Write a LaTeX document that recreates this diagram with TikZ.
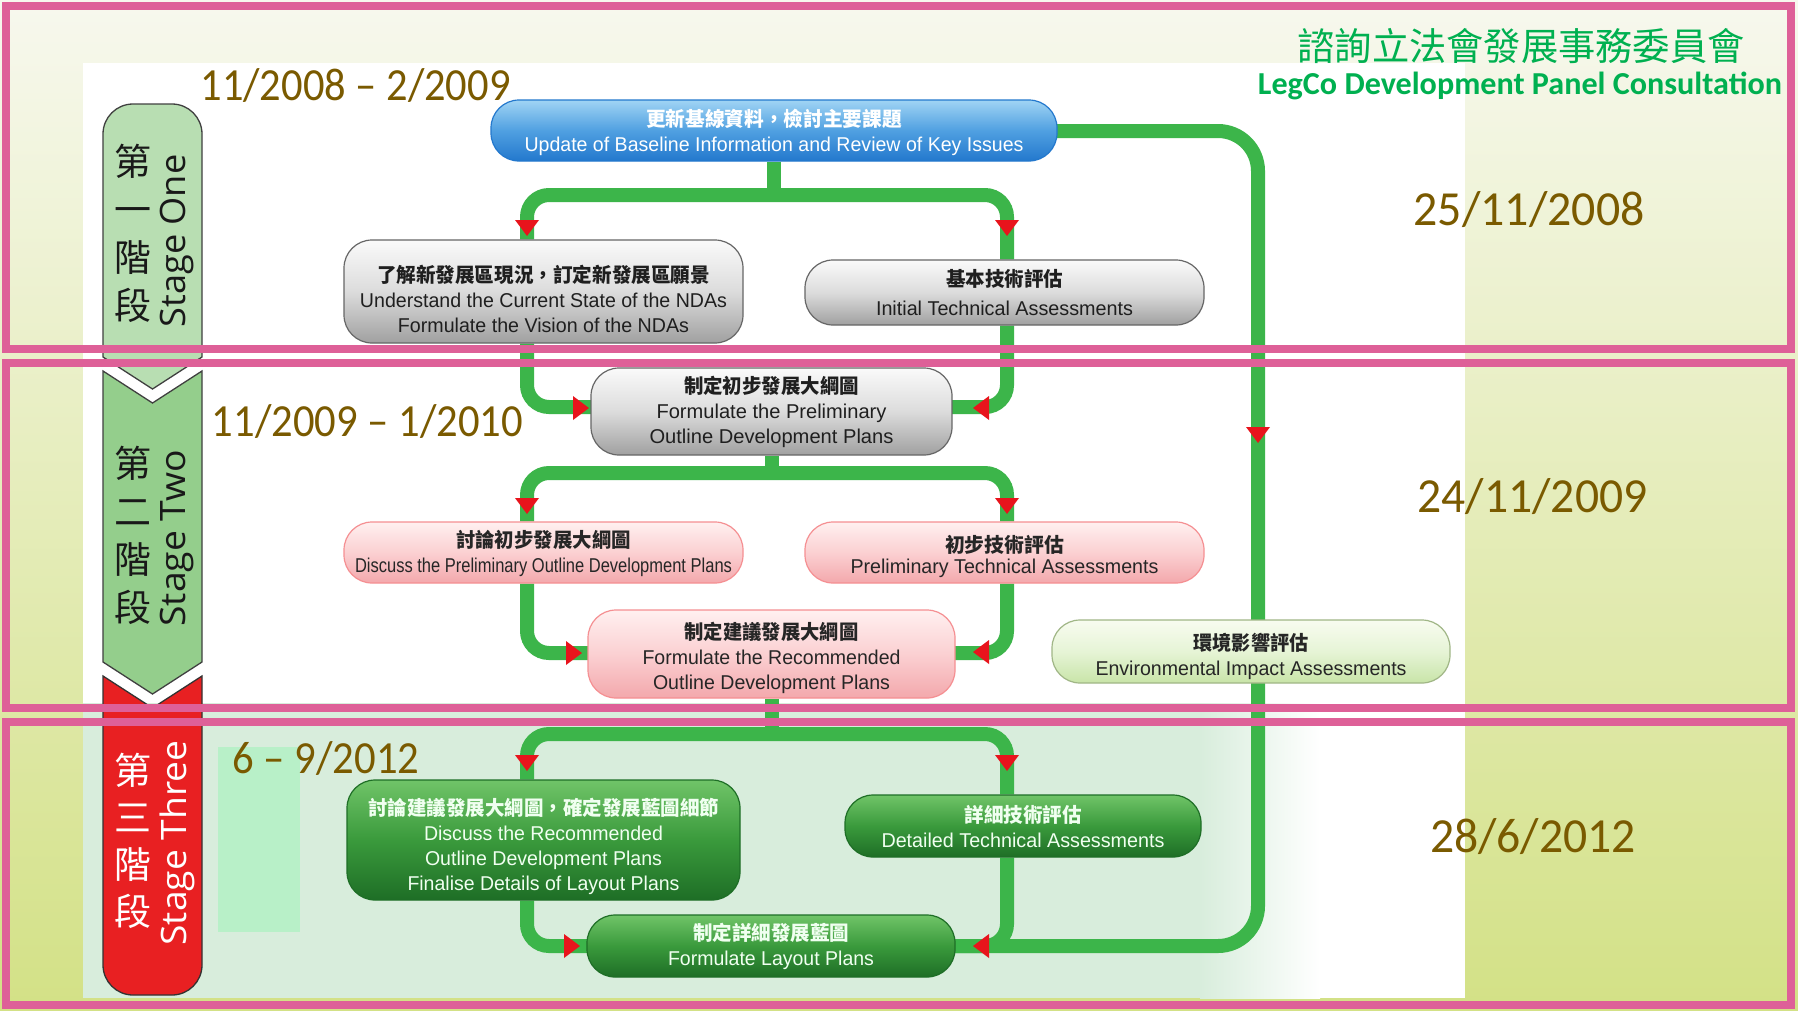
\documentclass[tikz,border=0pt]{standalone}
\usepackage{fontspec}
\usepackage{graphicx}
\setmainfont{Liberation Sans}
\newfontfamily\cjk{Noto Sans CJK TC}
\newfontfamily\calib{Carlito}
\newfontfamily\osans{Open Sans}
\pgfdeclarelayer{back}
\pgfdeclarelayer{lines}
\pgfsetlayers{back,lines,main}
\newcommand{\fw}[2]{\resizebox{#1pt}{\height}{#2}}
\newcommand{\up}[1]{\rule{0pt}{#1pt}}
\definecolor{pinkF}{RGB}{222,96,152}
\definecolor{lineGreen}{RGB}{60,181,74}
\definecolor{arrRed}{RGB}{232,20,28}
\definecolor{dateBrown}{RGB}{122,90,0}
\definecolor{titleGreen}{RGB}{0,176,80}
\definecolor{bgTop}{RGB}{247,248,238}
\definecolor{bgBot}{RGB}{211,225,134}
\definecolor{tint}{RGB}{216,237,220}
\definecolor{mint}{RGB}{184,240,200}
\definecolor{blueT}{RGB}{160,212,244}
\definecolor{blueM}{RGB}{80,160,225}
\definecolor{blueB}{RGB}{35,120,205}
\definecolor{grayT}{RGB}{250,250,250}
\definecolor{grayM}{RGB}{220,220,220}
\definecolor{grayB}{RGB}{160,160,160}
\definecolor{pinkT}{RGB}{255,240,240}
\definecolor{pinkM}{RGB}{251,208,210}
\definecolor{pinkB}{RGB}{243,168,172}
\definecolor{eiaT}{RGB}{248,252,240}
\definecolor{eiaM}{RGB}{230,244,214}
\definecolor{eiaB}{RGB}{200,228,168}
\definecolor{dgT}{RGB}{112,196,104}
\definecolor{dgM}{RGB}{58,154,60}
\definecolor{dgB}{RGB}{30,110,38}
\definecolor{stOne}{RGB}{184,222,178}
\definecolor{stTwo}{RGB}{148,206,140}
\definecolor{stThree}{RGB}{232,32,34}
\tikzset{
  box/.style={rectangle, rounded corners=28pt, inner sep=0pt, align=center,
    font=\fontsize{20}{25}\selectfont, line width=1.2pt},
  bluebox/.style={box, draw=blueB, top color=blueT, bottom color=blueB, middle color=blueM, text=white},
  graybox/.style={box, draw=gray!80!black, top color=grayT, bottom color=grayB, middle color=grayM, text=black!88},
  pinkbox/.style={box, draw=pinkB!85!red, top color=pinkT, bottom color=pinkB, middle color=pinkM, text=black!85},
  eiabox/.style={box, draw=eiaB!80!black, top color=eiaT, bottom color=eiaB, middle color=eiaM, text=black!85},
  dgbox/.style={box, draw=dgB, top color=dgT, bottom color=dgB, middle color=dgM, text=white!94!green},
  link/.style={draw=lineGreen, line width=14pt, rounded corners=22pt},
  datetext/.style={text=dateBrown, inner sep=0pt, font=\calib\fontsize{46}{46}\selectfont},
  stagebar/.style={line width=1.3pt},
  adown/.pic={\fill[arrRed] (0,0) -- (-12,-16) -- (12,-16) -- cycle;},
  aright/.pic={\fill[arrRed] (0,0) -- (-16,-12) -- (-16,12) -- cycle;},
  aleft/.pic={\fill[arrRed] (0,0) -- (16,-12) -- (16,12) -- cycle;},
}
\begin{document}
\begin{tikzpicture}[x=1pt,y=-1pt]
\useasboundingbox (0,0) rectangle (1798,1010);
\begin{pgfonlayer}{back}
  \shade[top color=bgTop, bottom color=bgBot] (0,0) rectangle (1798,1010);
  \fill[white] (83,63) rectangle (1465,998);
  \fill[tint] (83,703) rectangle (1200,998);
  \shade[left color=tint, right color=white] (1200,703) rectangle (1320,998);
  \fill[mint] (218,747) rectangle (300,932);
\end{pgfonlayer}

% coordinates for connector routing
\coordinate (xL) at (527,0);
\coordinate (xR) at (1007,0);
\coordinate (xLoop) at (1258,0);
\coordinate (yTop) at (0,131);
\coordinate (yA) at (0,195);
\coordinate (yB) at (0,407);
\coordinate (yC) at (0,473);
\coordinate (yD) at (0,653);
\coordinate (yE) at (0,734);
\coordinate (yF) at (0,946);

% nodes
\node[bluebox, minimum width=566pt, minimum height=61pt] (n1) at (774,130.5)
  {\up{22}\fw{256}{\cjk\bfseries 更新基線資料，檢討主要課題}\\\fw{499}{Update of Baseline Information and Review of Key Issues}};
\node[graybox, minimum width=399pt, minimum height=103pt] (n2) at (543.5,291.5)
  {\up{32}\fw{333}{\cjk\bfseries 了解新發展區現況，訂定新發展區願景}\\\fw{367}{Understand the Current State of the NDAs}\\\fw{291}{Formulate the Vision of the NDAs}};
\node[graybox, minimum width=399pt, minimum height=65pt] (n3) at (1004.5,292.5)
  {\fw{117}{\cjk\bfseries 基本技術評估}\\[4pt]\fw{257}{Initial Technical Assessments}};
\node[graybox, minimum width=361pt, minimum height=87pt] (n4) at (771.5,411.5)
  {\fw{175}{\cjk\bfseries 制定初步發展大綱圖}\\\fw{230}{Formulate the Preliminary}\\\fw{244}{Outline Development Plans}};
\node[pinkbox, minimum width=399pt, minimum height=61pt] (n5) at (543.5,552.5)
  {\up{20}\fw{175}{\cjk\bfseries 討論初步發展大綱圖}\\\fw{377}{Discuss the Preliminary Outline Development Plans}};
\node[pinkbox, minimum width=399pt, minimum height=61pt] (n6) at (1004.5,552.5)
  {\up{26}\fw{119}{\cjk\bfseries 初步技術評估}\\[-4pt]\fw{308}{Preliminary Technical Assessments}};
\node[pinkbox, minimum width=367pt, minimum height=88pt] (n7) at (771.5,654)
  {\up{25}\fw{174}{\cjk\bfseries 制定建議發展大綱圖}\\\fw{258}{Formulate the Recommended}\\\fw{237}{Outline Development Plans}};
\node[dgbox, minimum width=393pt, minimum height=120pt] (n9) at (543.5,840)
  {\up{31}\fw{351}{\cjk\bfseries 討論建議發展大綱圖，確定發展藍圖細節}\\\fw{239}{Discuss the Recommended}\\\fw{237}{Outline Development Plans}\\\fw{272}{Finalise Details of Layout Plans}};
\node[dgbox, minimum width=356pt, minimum height=62pt] (n10) at (1023,826)
  {\fw{117}{\cjk\bfseries 詳細技術評估}\\\fw{283}{Detailed Technical Assessments}};
\node[dgbox, minimum width=368pt, minimum height=62pt] (n11) at (771,946)
  {\fw{156}{\cjk\bfseries 制定詳細發展藍圖}\\\fw{206}{Formulate Layout Plans}};
\node[eiabox, minimum width=398pt, minimum height=63pt] (n8) at (1251,651.5)
  {\up{27}\fw{115}{\cjk\bfseries 環境影響評估}\\\fw{311}{Environmental Impact Assessments}};

% connectors
\begin{pgfonlayer}{lines}
  \draw[link, rounded corners=40pt] (n1.center |- yTop) -- (xLoop |- yTop) -- (xLoop |- yF) -- (n11.center |- yF);
  \draw[link] (n1.south) -- (n1.south |- yA);
  \draw[link] (n2.north -| xL) -- (xL |- yA) -- (xR |- yA) -- (n3.north -| xR);
  \draw[link] (n2.south -| xL) -- (xL |- yB) -- (n4.center |- yB);
  \draw[link] (n3.south -| xR) -- (xR |- yB) -- (n4.center |- yB);
  \draw[link] (n4.south) -- (n4.south |- yC);
  \draw[link] (n5.north -| xL) -- (xL |- yC) -- (xR |- yC) -- (n6.north -| xR);
  \draw[link] (n5.south -| xL) -- (xL |- yD) -- (n7.center |- yD);
  \draw[link] (n6.south -| xR) -- (xR |- yD) -- (n7.center |- yD);
  \draw[link] (n7.south) -- (n7.south |- yE);
  \draw[link] (n9.north -| xL) -- (xL |- yE) -- (xR |- yE) -- (n10.north -| xR);
  \draw[link] (n9.south -| xL) -- (xL |- yF) -- (n11.center |- yF);
  \draw[link] (n10.south -| xR) -- (xR |- yF) -- (n11.center |- yF);
\end{pgfonlayer}

% arrowheads
\pic at (527,236) {adown};
\pic at (1007,236) {adown};
\pic at (589,408) {aright};
\pic at (973,408) {aleft};
\pic at (527,514) {adown};
\pic at (1007,514) {adown};
\pic at (582,653) {aright};
\pic at (973,652) {aleft};
\pic at (527,771) {adown};
\pic at (1007,771) {adown};
\pic at (580,946) {aright};
\pic at (973,946) {aleft};
\pic at (1258,443) {adown};

% stage bars
\draw[stagebar, draw=black!75, fill=stOne] (103,357) [rounded corners=30pt] -- (103,104) -- (202,104) -- (202,200) [sharp corners] -- (202,357) -- (152.5,389) -- cycle;
\draw[stagebar, draw=black!75, fill=stTwo] (103,371) -- (152.5,403) -- (202,371) -- (202,662) -- (152.5,694) -- (103,662) -- cycle;
\draw[stagebar, draw=black!80, fill=stThree] (103,676) -- (152.5,708) -- (202,676) -- (202,800) [rounded corners=30pt] -- (202,995) -- (103,995) -- (103,800) [sharp corners] -- cycle;

\node[align=center, inner sep=0pt, font=\cjk\fontsize{37}{48}\selectfont, text=black!90] (s1c) at (133,233) {第\\一\\階\\段};
\node[rotate=90, inner sep=0pt, font=\osans\fontsize{35}{35}\selectfont, text=black!90] (s1e) at (177,241) {\fw{173}{Stage One}};
\node[align=center, inner sep=0pt, font=\cjk\fontsize{37}{48}\selectfont, text=black!90] (s2c) at (133,535) {第\\二\\階\\段};
\node[rotate=90, inner sep=0pt, font=\osans\fontsize{35}{35}\selectfont, text=black!90] (s2e) at (177,538) {\fw{177}{Stage Two}};
\node[align=center, inner sep=0pt, font=\cjk\fontsize{37}{47}\selectfont, text=white] (s3c) at (133,841) {第\\三\\階\\段};
\node[rotate=90, inner sep=0pt, font=\osans\fontsize{35}{35}\selectfont, text=white] (s3e) at (177,843) {\fw{205}{Stage Three}};

% dates
\node[datetext] (d1) at (355.5,86) {\fw{310}{11/2008 – 2/2009}};
\node[datetext] (d2) at (367.5,421) {\fw{311}{11/2009 – 1/2010}};
\node[datetext] (d3) at (326,758) {\fw{187}{6 – 9/2012}};
\node[datetext, font=\calib\fontsize{49}{49}\selectfont] (d4) at (1529,210) {\fw{231}{25/11/2008}};
\node[datetext, font=\calib\fontsize{49}{49}\selectfont] (d5) at (1532.5,497) {\fw{230}{24/11/2009}};
\node[datetext, font=\calib\fontsize{49}{49}\selectfont] (d6) at (1533,837) {\fw{206}{28/6/2012}};

% title
\node[text=titleGreen, inner sep=0pt, font=\cjk\fontsize{38}{38}\selectfont] (t1) at (1521,46) {\fw{447}{諮詢立法會發展事務委員會}};
\node[text=titleGreen, inner sep=0pt, font=\calib\bfseries\fontsize{32}{32}\selectfont] (t2) at (1520,86) {\fw{524}{LegCo Development Panel Consultation}};

% pink frames
\draw[pinkF, line width=8pt] (6,6) rectangle (1791,349);
\draw[pinkF, line width=8pt] (6,363) rectangle (1791,708);
\draw[pinkF, line width=8pt] (6,722) rectangle (1791,1005);
\end{tikzpicture}
\end{document}
